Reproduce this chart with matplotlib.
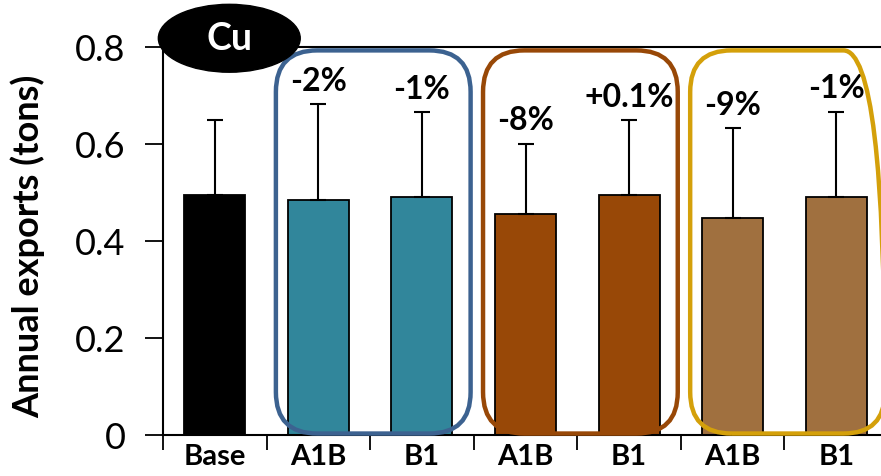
import numpy as np
import matplotlib.pyplot as plt
from matplotlib.patches import FancyBboxPatch, Ellipse

plt.rcParams['font.family'] = ['Lato', 'DejaVu Sans']

categories = ['Base', 'A1B', 'B1', 'A1B', 'B1', 'A1B', 'B1']
exports = [0.495, 0.485, 0.490, 0.456, 0.495, 0.448, 0.490]
upper_err = [0.154, 0.197, 0.175, 0.145, 0.155, 0.185, 0.177]
changes = ['', '-2%', '-1%', '-8%', '+0.1%', '-9%', '-1%']
bar_colors = ['#000000', '#31869B', '#31869B', '#984807', '#984807', '#A0703F', '#A0703F']

# scenario groups: (first index, last index, outline colour)
groups = [(1, 2, '#3C6290'), (3, 4, '#984807'), (5, 6, '#D4A00A')]

fig = plt.figure(figsize=(8.81, 4.77), dpi=100)
ax = fig.add_axes([163 / 881, 41 / 477, 725 / 881, 388 / 477])

x = np.arange(len(categories)) + 0.5
ax.bar(x, exports, width=0.59, color=bar_colors, edgecolor='black', linewidth=1.3, zorder=2)
ax.errorbar(x, exports, yerr=[np.zeros(len(x)), upper_err], fmt='none',
            ecolor='black', elinewidth=1.5, capsize=6, capthick=1.5, zorder=3)

for xi, y, e, txt in zip(x, exports, upper_err, changes):
    if txt:
        ax.annotate(txt, (xi, y + e), xytext=(0, 17), textcoords='offset points',
                    ha='center', va='center', fontsize=23, fontweight='bold')

# rounded outlines around each scenario pair
for i0, i1, col in groups:
    box = FancyBboxPatch((i0 + 0.09, 0.003), (i1 - i0) + 0.88, 0.79,
                         boxstyle='round,pad=0,rounding_size=0.4',
                         mutation_aspect=0.8 / 388 * 103.6,
                         fill=False, edgecolor=col, linewidth=3.2,
                         zorder=4, clip_on=False)
    ax.add_patch(box)

ax.set_xlim(0, 7)
ax.set_ylim(0, 0.8)
ax.set_yticks([0, 0.2, 0.4, 0.6, 0.8])
ax.set_yticklabels(['0', '0.2', '0.4', '0.6', '0.8'])
ax.set_xticks(np.arange(0, 8))
ax.set_xticklabels([])
ax.set_xticks(x, minor=True)
ax.set_xticklabels(categories, minor=True, fontweight='bold', fontsize=21)
ax.tick_params(axis='x', which='major', length=11, width=1.3, direction='out')
ax.tick_params(axis='x', which='minor', length=0, pad=6)
ax.tick_params(axis='y', length=13, width=1.3, direction='out', labelsize=26, pad=14)

for side in ['left', 'bottom', 'top']:
    ax.spines[side].set_linewidth(1.5)
ax.spines['right'].set_visible(False)

ax.set_ylabel('Annual exports (tons)', fontsize=26, fontweight='bold')
ax.yaxis.set_label_coords(-118 / 725, 0.49)

# element badge
ax.add_patch(Ellipse((0.64, 0.818), 1.37, 0.14, color='black', clip_on=False, zorder=5))
ax.text(0.64, 0.818, 'Cu', color='white', fontsize=27, fontweight='bold',
        ha='center', va='center', zorder=6)

fig.savefig('out.png', dpi=100)
